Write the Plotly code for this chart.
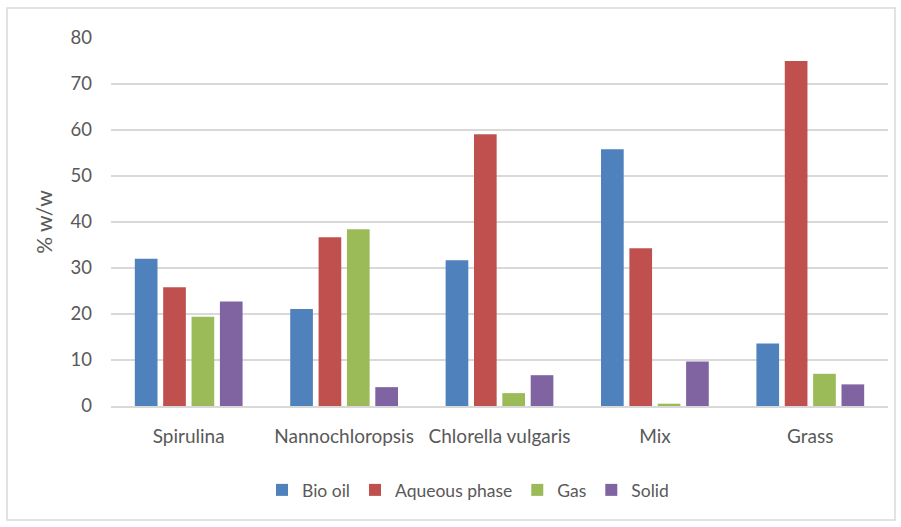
import plotly.graph_objects as go

categories = ["Spirulina", "Nannochloropsis", "Chlorella vulgaris", "Mix", "Grass"]
bio_oil = [32.0, 21.1, 31.7, 55.8, 13.6]
aqueous_phase = [25.8, 36.7, 59.1, 34.3, 75.0]
gas = [19.4, 38.4, 2.8, 0.5, 7.0]
solid = [22.7, 4.1, 6.7, 9.7, 4.7]

series = [
    ("Bio oil", bio_oil, "#4F81BD"),
    ("Aqueous phase", aqueous_phase, "#C0504D"),
    ("Gas", gas, "#9BBB59"),
    ("Solid", solid, "#8064A2"),
]

FONT = "Lato, 'Open Sans', sans-serif"
fig = go.Figure()
for name, vals, color in series:
    fig.add_trace(go.Bar(x=categories, y=vals, name=name,
                         marker=dict(color=color, line=dict(width=0))))

L, R, T, B = 111, 13, 38, 121
W, H = 901, 527
pw, ph = W - L - R, H - T - B

fig.update_layout(
    width=W, height=H,
    margin=dict(l=L, r=R, t=T, b=B),
    paper_bgcolor="white", plot_bgcolor="white",
    barmode="group", bargap=0.27, bargroupgap=0.2,
    font=dict(family=FONT, color="#595959", size=18),
    showlegend=True,
    legend=dict(orientation="h", x=(468 - L) / pw, xanchor="center",
                y=(H - B - 490) / ph, yanchor="middle",
                font=dict(size=17.5, color="#595959"),
                itemwidth=30, traceorder="normal"),
    xaxis=dict(showgrid=False, showline=True, linecolor="#D9D9D9", linewidth=1.5,
               ticks="", tickfont=dict(size=19, color="#595959"),
               ticklabelstandoff=12),
    yaxis=dict(range=[0, 80], dtick=10, showgrid=True, gridcolor="#D9D9D9",
               gridwidth=1.5, zeroline=False, showline=False, ticks="",
               tickfont=dict(size=18.5, color="#595959"), ticklabelstandoff=18,
               title=dict(text="% w/w", font=dict(size=21, color="#595959"),
                          standoff=12)),
    shapes=[dict(type="rect", xref="paper", yref="paper",
                 x0=(7 - L) / pw, x1=(895 - L) / pw,
                 y0=(H - B - 520) / ph, y1=(H - B - 8) / ph,
                 line=dict(color="#D9D9D9", width=1.5), fillcolor="rgba(0,0,0,0)",
                 layer="below")],
)

fig.write_html("out.html")
